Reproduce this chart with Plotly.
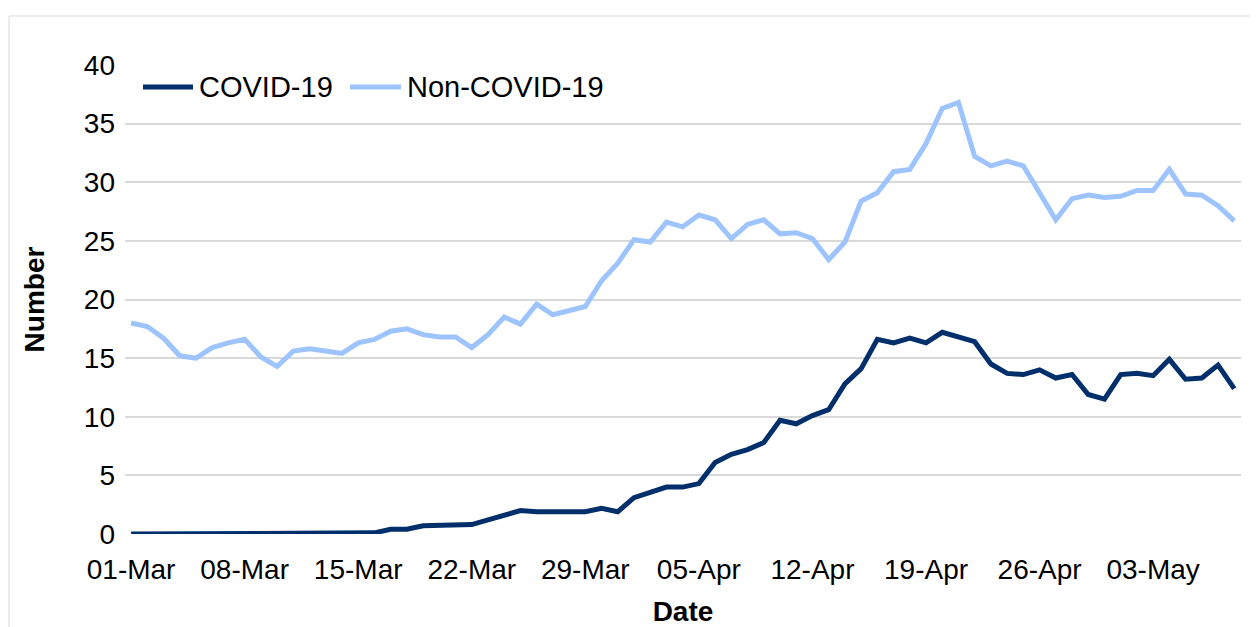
import plotly.graph_objects as go
import pandas as pd

dates = pd.date_range("2020-03-01", "2020-05-08", freq="D")

covid = [0, 0, 0, 0, 0, 0, 0, 0, 0, 0,
         0, 0, 0, 0, 0, 0.1, 0.4, 0.4, 0.7, 0.7,
         0.8, 0.8, 1.2, 1.6, 2.0, 1.9, 1.9, 1.9, 1.9, 2.2,
         1.9, 3.1, 3.6, 4.0, 4.0, 4.3, 6.1, 6.8, 7.2, 7.8,
         9.7, 9.4, 10.1, 10.6, 12.8, 14.1, 16.6, 16.3, 16.7, 16.3,
         17.2, 16.8, 16.4, 14.5, 13.7, 13.6, 14.0, 13.3, 13.6, 11.9,
         11.5, 13.6, 13.7, 13.5, 14.9, 13.2, 13.3, 14.4, 12.4]

non_covid = [18.0, 17.7, 16.7, 15.2, 15.0, 15.9, 16.3, 16.6, 15.1, 14.3,
             15.6, 15.8, 15.6, 15.4, 16.3, 16.6, 17.3, 17.5, 17.0, 16.8,
             16.8, 15.9, 17.0, 18.5, 17.9, 19.6, 18.7, 19.1, 19.4, 21.6,
             23.1, 25.1, 24.9, 26.6, 26.2, 27.2, 26.8, 25.2, 26.4, 26.8,
             25.6, 25.7, 25.2, 23.4, 24.9, 28.4, 29.1, 30.9, 31.1, 33.3,
             36.3, 36.8, 32.2, 31.4, 31.8, 31.4, 29.1, 26.8, 28.6, 28.9,
             28.7, 28.8, 29.3, 29.3, 31.1, 29.0, 28.9, 28.0, 26.7]

series_names = ["COVID-19", "Non-COVID-19"]
series_colors = ["#002F6C", "#9DC4FF"]

W, H = 1258, 627
L, R, T, B = 117, 1233, 57, 526

fig = go.Figure()
fig.add_trace(go.Scatter(x=dates, y=covid, mode="lines", name=series_names[0],
                         line=dict(color=series_colors[0], width=5),
                         showlegend=False))
fig.add_trace(go.Scatter(x=dates, y=non_covid, mode="lines", name=series_names[1],
                         line=dict(color=series_colors[1], width=5),
                         showlegend=False))

font_family = "Liberation Sans, Arial, sans-serif"
FS = 28

def px_to_paper_x(px):
    return (px - L) / (R - L)

def px_to_paper_y(py):
    return (B - py) / (B - T)

# custom legend (line sample + label), laid out like the original
legend_y = 79
legend_items = [(135, 185, 189), (342, 393, 397)]  # line start, line end, text start (px)
shapes = [
    dict(type="rect", xref="paper", yref="paper",
         x0=px_to_paper_x(1), x1=px_to_paper_x(1250),
         y0=px_to_paper_y(621), y1=px_to_paper_y(8),
         line=dict(color="#D9D9D9", width=1), layer="below"),
]
annotations = []
for (x0, x1, xt), name, color in zip(legend_items, series_names, series_colors):
    shapes.append(dict(type="line", xref="paper", yref="paper",
                       x0=px_to_paper_x(x0), x1=px_to_paper_x(x1),
                       y0=px_to_paper_y(legend_y), y1=px_to_paper_y(legend_y),
                       line=dict(color=color, width=5)))
    annotations.append(dict(text=name, xref="paper", yref="paper",
                            x=px_to_paper_x(xt), y=px_to_paper_y(legend_y),
                            xanchor="left", yanchor="middle", showarrow=False,
                            font=dict(size=29, color="#000000")))

fig.update_layout(
    width=W, height=H,
    margin=dict(l=L, r=W - R, t=T, b=H - B, autoexpand=False),
    paper_bgcolor="white", plot_bgcolor="white",
    font=dict(family=font_family, size=FS, color="#000000"),
    showlegend=False,
    xaxis=dict(
        type="date",
        range=[pd.Timestamp("2020-03-01") - pd.Timedelta(hours=9),
               pd.Timestamp("2020-05-08") + pd.Timedelta(hours=10)],
        tick0="2020-03-01", dtick=7 * 86400000, tickformat="%d-%b",
        showgrid=False, zeroline=False, showline=False,
        ticks="", ticklabelstandoff=16,
        title=dict(text="<b>Date</b>", standoff=17, font=dict(size=FS)),
        tickfont=dict(size=FS),
    ),
    yaxis=dict(
        range=[0, 40], dtick=5, tick0=0,
        showgrid=True, gridcolor="#D9D9D9", gridwidth=1.5,
        zeroline=False, showline=False, ticks="", ticklabelstandoff=9,
        title=dict(text="<b>Number</b>", standoff=31, font=dict(size=FS)),
        tickfont=dict(size=FS),
    ),
    shapes=shapes,
    annotations=annotations,
)

fig.write_html("out.html")
